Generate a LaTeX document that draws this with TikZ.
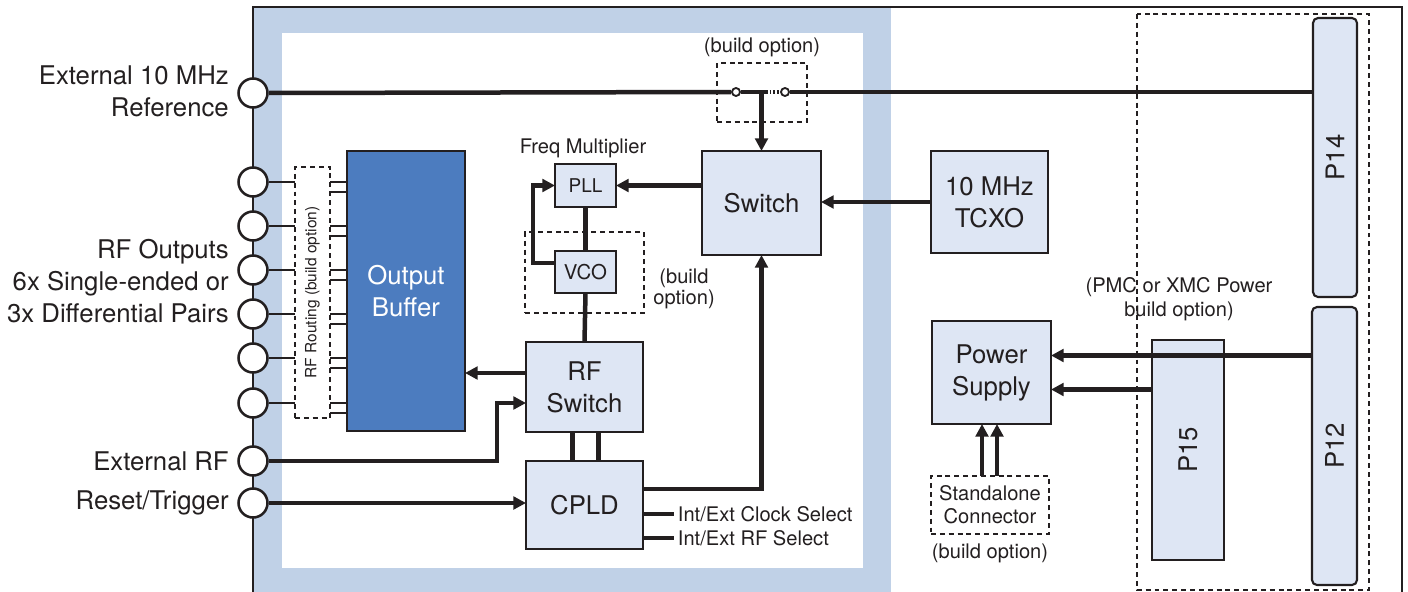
\documentclass[tikz,border=0pt]{standalone}
\usepackage{fontspec}
\setmainfont{TeX Gyre Heros}
\usetikzlibrary{arrows.meta,calc}
\definecolor{frameblue}{HTML}{C0D1E7}
\definecolor{boxfill}{HTML}{DEE6F4}
\definecolor{bufblue}{HTML}{4C7CBF}
\definecolor{ink}{HTML}{231F20}
\newcommand{\pxu}{0.025cm}
\newcommand{\bigtxt}{\fontsize{18.3}{22.7}\selectfont}
\newcommand{\smalltxt}{\fontsize{14.3}{16.5}\selectfont}

\begin{document}
\begin{tikzpicture}[x=0.025cm, y=-0.025cm, color=ink,
  sz/.style 2 args={minimum width=#1*\pxu, minimum height=#2*\pxu, inner sep=0pt, outer sep=0pt},
  blk/.style={draw, line width=1.5pt, fill=boxfill, align=center, font=\bigtxt},
  optbox/.style={draw, line width=1.6pt, dash pattern=on 3.5pt off 2.8pt},
  jack/.style={circle, draw, line width=1.8pt, fill=white, minimum size=29*\pxu, inner sep=0pt},
  pin/.style={circle, draw, line width=1.3pt, fill=white, minimum size=8*\pxu, inner sep=0pt},
  conn/.style={blk, rounded corners=1.25mm},
  sig/.style={line width=3.2pt},
  arr/.style={sig, -{Triangle[length=9pt, width=9pt]}},
  wire/.style={line width=1.5pt},
  lbl/.style={font=\bigtxt, align=right, anchor=east, inner sep=0pt},
  note/.style={font=\smalltxt, align=center}]
\useasboundingbox (0,0) rectangle (1408,592);

% board and front panel frame
\fill[frameblue] (253,7) rectangle (891,600);
\fill[white] (282,33) rectangle (863,568);
\draw[line width=1.8pt] (253,600) -- (253,7) -- (1402,7) -- (1402,600);
\draw[optbox] (1137,14) rectangle (1369,590);

% blocks
\node[blk, sz={119}{104}] (sw) at (761.5,203) {Switch};
\node[blk, sz={117}{102}] (tcxo) at (989.5,202) {10 MHz\\TCXO};
\node[optbox, sz={119}{81}] (vcobox) at (584.5,272.5) {};
\node[blk, sz={61}{43}, font=\fontsize{13.5}{15}\selectfont] (pll) at (585.5,185.5) {PLL};
\node[blk, sz={61}{42}, font=\fontsize{14.5}{16}\selectfont] (vco) at (585.5,272) {VCO};
\node[blk, sz={117}{90}] (rfsw) at (584.5,387) {RF\\Switch};
\node[blk, sz={117}{88}] (cpld) at (584.5,505) {CPLD};
\node[blk, sz={118}{280}, fill=bufblue, text=white] (ob) at (406,291) {Output\\Buffer};
\node[optbox, sz={35}{251}] (rr) at (312.5,292.5)
  {\rotatebox{90}{\fontsize{11}{13}\selectfont RF Routing (build option)}};
\node[blk, sz={119}{103}] (psu) at (991.5,372.5) {Power\\Supply};
\node[optbox, sz={118}{58}, font=\smalltxt, align=center] (sa) at (990,505) {Standalone\\Connector};
\node[blk, sz={72}{220}] (p15) at (1188,450) {\rotatebox{90}{P15}};
\node[conn, sz={45}{278}] (p12) at (1334.5,446) {\rotatebox{90}{P12}};
\node[conn, sz={44}{279}] (p14) at (1335,157.5) {\rotatebox{90}{P14}};

% front panel jacks
\node[jack] (ext10) at (253,93) {};
\foreach \y [count=\i] in {182,226,270,314,358,403}
  \node[jack] (out\i) at (253,\y) {};
\node[jack] (extrf) at (253,461) {};
\node[jack] (rst) at (253,503) {};

% labels
\node[lbl] (ext10lbl) at (229,91) {External 10 MHz\\Reference};
\node[lbl] (rfoutlbl) at (229,281) {RF Outputs\\6x Single-ended or\\3x Differential Pairs};
\node[lbl] (extrflbl) at (229,461) {External RF};
\node[lbl] (rstlbl) at (229,503) {Reset/Trigger};
\node[note] (fmlbl) at (583,148) {Freq Multiplier};
\node[note] (swopt) at (762,47) {(build option)};
\node[note, font=\fontsize{14.3}{15}\selectfont] (vcoopt) at (684,289) {(build\\option)};
\node[note, font=\fontsize{14.3}{17}\selectfont] (pmcopt) at (1179,299) {(PMC or XMC Power\\build option)};
\node[note] (saopt) at (990,553) {(build option)};
\node[note, anchor=west] (clksel) at (673,514) {Int/Ext Clock Select};
\node[note, anchor=west] (rfsel) at (673,538) {Int/Ext RF Select};

% reference input with build-option link
\node[optbox, sz={90}{59}] (swbox) at (762,92.5) {};
\node[pin] (pa) at (736,92) {};
\node[pin] (pb) at (785,92) {};
\coordinate (brk) at (766,92);
\draw[sig] (ext10.east) -- (pa.west);
\draw[sig] (pa.east) -- (brk);
\draw[sig, dash pattern=on 1.3pt off 1.3pt] (brk) -- (pb.west);
\draw[sig] (pb.east) -- (p14.west |- pb);
\draw[arr] (sw.north |- pa) -- (sw.north);

% clock path
\draw[arr] (tcxo.west) -- (sw.east |- tcxo.west);
\draw[arr] (sw.west |- pll.east) -- (pll.east);
\draw[sig] (pll.south) -- (vco.north);
\draw[arr] ($(vco.west)+(0,-9)$) -- ++(-22,0) |- (pll.west);
\draw[sig] (vco.south) -- (rfsw.north);
\coordinate (rfo) at ($(rfsw.west)+(0,-14)$);
\draw[arr] (rfo) -- (ob.east |- rfo);
\coordinate (rfi) at ($(rfsw.west)+(0,16)$);
\draw[arr] (extrf.east) -| ($(rfi)+(-29,0)$) -- (rfi);
\draw[sig] ($(rfsw.south)+(-12,0)$) -- ($(cpld.north)+(-12,0)$);
\draw[sig] ($(rfsw.south)+(14,0)$) -- ($(cpld.north)+(14,0)$);
\draw[arr] (rst.east) -- (cpld.west |- rst.east);
\draw[arr] ($(cpld.east)+(0,-16)$) -| (sw.south);
\draw[sig] (cpld.east |- clksel.west) -- ($(clksel.west)+(1,0)$);
\draw[sig] (cpld.east |- rfsel.west) -- ($(rfsel.west)+(1,0)$);

% outputs
\foreach \i in {1,...,6} {
  \draw[wire] (out\i.east) -- (rr.west |- out\i);
  \draw[wire] (rr.east |- out\i) -- (ob.west |- out\i);
  \draw[wire] ($(rr.east |- out\i)+(0,10)$) -- ($(ob.west |- out\i)+(0,10)$);
}

% power
\coordinate (psin1) at ($(psu.east)+(0,-17)$);
\coordinate (psin2) at ($(psu.east)+(0,17)$);
\draw[arr] (p12.west |- psin1) -- (psin1);
\draw[arr] (p15.west |- psin2) -- (psin2);
\draw[arr] ($(sa.north)+(-8,0)$) coordinate (sa1) -- (sa1 |- psu.south);
\draw[arr] ($(sa.north)+(7,0)$) coordinate (sa2) -- (sa2 |- psu.south);
\end{tikzpicture}
\end{document}
